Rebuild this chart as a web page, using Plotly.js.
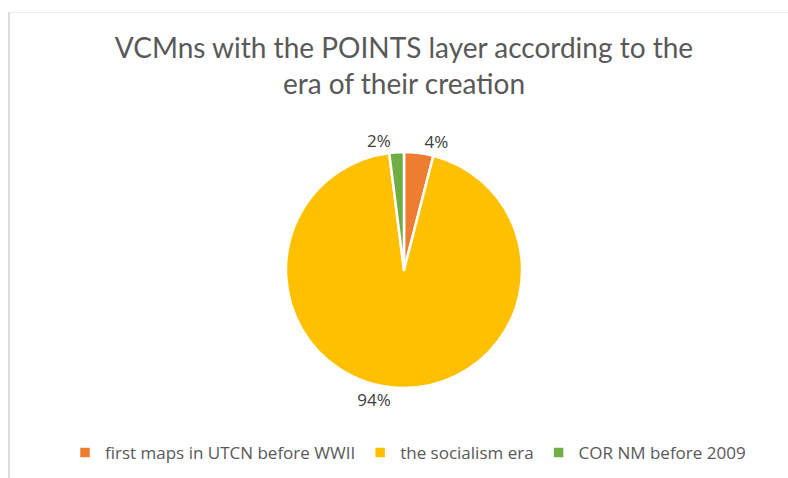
<!DOCTYPE html>
<html>
<head>
<meta charset="utf-8">
<script src="https://cdn.plot.ly/plotly-3.0.1.min.js"></script>
<style>
  html, body { margin: 0; padding: 0; background: #fff; }
  #wrap { position: relative; width: 788px; height: 478px; }
  #frame { position: absolute; left: 8px; top: 12px; width: 780px; height: 466px;
           border-left: 2px solid #dcdcdc; border-top: 1px solid #ececec; box-sizing: border-box; pointer-events: none; }
  #chart { position: absolute; left: 0; top: 0; width: 788px; height: 478px; }
</style>
</head>
<body>
<div id="wrap">
  <div id="chart"></div>
  <div id="frame"></div>
</div>
<script>
const categories = ["first maps in UTCN before WWII", "the socialism era", "COR NM before 2009"];
const shares = [4, 94, 2];
const sliceColors = ["#ED7D31", "#FFC000", "#70AD47"];

const W = 788, H = 478;
const cx = 404, cy = 270, r = 118;

const data = [{
  type: "pie",
  labels: categories,
  values: shares,
  sort: false,
  direction: "clockwise",
  rotation: 0,
  marker: { colors: sliceColors, line: { color: "#ffffff", width: 2.5 } },
  textinfo: "percent",
  texttemplate: "%{percent:.0%}",
  textposition: "outside",
  outsidetextfont: { family: "'Open Sans', sans-serif", size: 17, color: "#404040" },
  hoverinfo: "label+percent",
  domain: { x: [(cx - r) / W, (cx + r) / W], y: [1 - (cy + r) / H, 1 - (cy - r) / H] }
}];

const layout = {
  width: W, height: H,
  margin: { l: 0, r: 0, t: 0, b: 0 },
  paper_bgcolor: "#ffffff",
  title: {
    text: "VCMns with the POINTS layer according to the<br>era of their creation",
    font: { family: "Lato, 'Open Sans', sans-serif", size: 28, color: "#595959" },
    x: 404 / W, xanchor: "center",
    y: 1 - 58 / H, yanchor: "middle",
    xref: "paper", yref: "container"
  },
  showlegend: true,
  legend: {
    orientation: "h",
    x: 408 / W, xanchor: "center",
    y: 1 - 453 / H, yanchor: "middle",
    font: { family: "'Open Sans', sans-serif", size: 17, color: "#595959" },
    traceorder: "normal"
  }
};

Plotly.newPlot("chart", data, layout, { displayModeBar: false, staticPlot: true });
</script>
</body>
</html>
